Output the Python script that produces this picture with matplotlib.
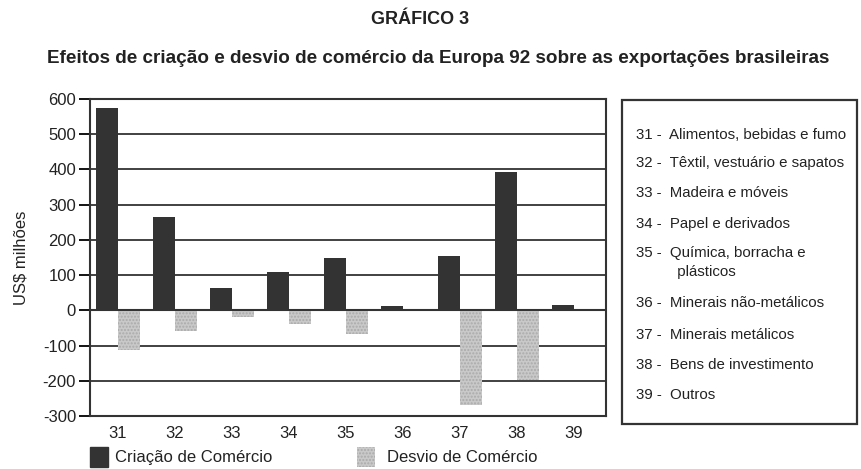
import matplotlib.pyplot as plt
from matplotlib.patches import Rectangle
import numpy as np

plt.rcParams['font.family'] = ['Liberation Sans', 'DejaVu Sans']
plt.rcParams['axes.unicode_minus'] = False

setores = ["31", "32", "33", "34", "35", "36", "37", "38", "39"]
criacao = [574, 264, 62, 110, 150, 13, 155, 392, 16]
desvio = [-113, -58, -20, -38, -66, 0, -268, -197, 0]
descricoes = [
    "31 -  Alimentos, bebidas e fumo",
    "32 -  Têxtil, vestuário e sapatos",
    "33 -  Madeira e móveis",
    "34 -  Papel e derivados",
    "35 -  Química, borracha e\n          plásticos",
    "36 -  Minerais não-metálicos",
    "37 -  Minerais metálicos",
    "38 -  Bens de investimento",
    "39 -  Outros",
]

dark = '#333333'
light = '#c9c9c9'
txt = '#222222'

fig = plt.figure(figsize=(8.61, 4.69), dpi=100)
ax = fig.add_axes([90 / 861, 1 - 416 / 469, 516 / 861, 317 / 469])

x = np.arange(len(setores))
w = 0.39
ax.bar(x - w / 2, criacao, w, color=dark, zorder=3)
ax.bar(x + w / 2, desvio, w, color=light, hatch='.....', edgecolor='#aaaaaa',
       linewidth=0, zorder=3)

ax.set_xlim(-0.49, 8.56)
ax.set_ylim(-300, 600)
ax.set_yticks(range(-300, 601, 100))
ax.set_xticks(x)
ax.set_xticklabels(setores)
ax.yaxis.grid(True, color='#333333', linewidth=1.3, zorder=0)
ax.axhline(0, color='#333333', linewidth=1.5, zorder=4)
for s in ax.spines.values():
    s.set_color('#333333')
    s.set_linewidth(1.5)
ax.tick_params(axis='y', length=8, width=1.3, labelsize=12, pad=2,
               labelcolor=txt)
ax.tick_params(axis='x', length=0, labelsize=12, pad=7, labelcolor=txt)
ax.set_ylabel("US$ milhões", fontsize=12, labelpad=10, color=txt)

fig.text(0.488, 0.958, "GRÁFICO 3", ha='center', va='center',
         fontsize=13, fontweight='bold', color=txt)
fig.text(0.509, 0.875,
         "Efeitos de criação e desvio de comércio da Europa 92 sobre as exportações brasileiras",
         ha='center', va='center', fontsize=13.6, fontweight='bold', color=txt)

# caixa de descricao dos setores
fig.patches.append(Rectangle((622 / 861, 1 - 424 / 469), 235 / 861, 324 / 469,
                             transform=fig.transFigure, fill=False,
                             edgecolor='#333333', linewidth=1.6))
ys = [128, 156, 186, 217, 246, 296, 328, 358, 388]
for yy, t in zip(ys, descricoes):
    fig.text(636 / 861, 1 - yy / 469, t, ha='left', va='top',
             fontsize=10.8, color=txt, linespacing=1.45)

# legenda inferior
fig.patches.append(Rectangle((90 / 861, 1 - 467 / 469), 18 / 861, 20 / 469,
                             transform=fig.transFigure, color=dark))
fig.text(115 / 861, 1 - 457 / 469, "Criação de Comércio", va='center',
         fontsize=12, color=txt)
fig.patches.append(Rectangle((357 / 861, 1 - 467 / 469), 18 / 861, 20 / 469,
                             transform=fig.transFigure, facecolor=light,
                             hatch='.....', edgecolor='#aaaaaa', linewidth=0))
fig.text(387 / 861, 1 - 457 / 469, "Desvio de Comércio", va='center',
         fontsize=12, color=txt)

fig.savefig("out.png", dpi=100)
